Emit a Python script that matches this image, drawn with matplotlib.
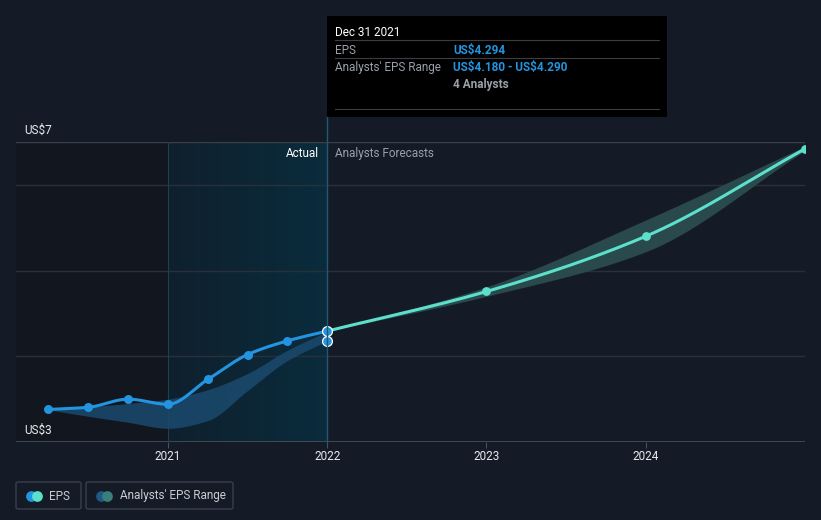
import numpy as np
import matplotlib.pyplot as plt
from matplotlib.patches import Rectangle, FancyBboxPatch
from matplotlib.colors import LinearSegmentedColormap

plt.rcParams['font.family'] = ['Roboto', 'DejaVu Sans']

# --- data ---
hist_x = [2020.25, 2020.5, 2020.75, 2021.0, 2021.25, 2021.5, 2021.75, 2022.0]
hist_eps = [3.38, 3.405, 3.50, 3.44, 3.73, 4.02, 4.18, 4.294]
hist_low = [3.375, 3.30, 3.23, 3.16, 3.25, 3.60, 3.95, 4.18]
hist_high = [3.375, 3.41, 3.45, 3.50, 3.61, 3.80, 4.07, 4.29]

fc_x = [2022.0, 2023.0, 2024.0, 2025.0]
fc_eps = [4.294, 4.756, 5.40, 6.42]
fc_low = [4.294, 4.70, 5.22, 6.40]
fc_high = [4.294, 4.81, 5.59, 6.45]

year_ticks = [2021, 2022, 2023, 2024]
y_labels = [r'US\$7', r'US\$3']

BG = '#151b26'
BLUE = '#2394df'
MINT = '#5ce0cb'
W, H = 821, 520


def smooth(x, y, n=200):
    # monotone cubic (Fritsch-Carlson) just for drawing the curves
    x = np.asarray(x, float)
    y = np.asarray(y, float)
    h = np.diff(x)
    d = np.diff(y) / h
    m = np.zeros_like(y)
    m[0], m[-1] = d[0], d[-1]
    for i in range(1, len(y) - 1):
        if d[i - 1] * d[i] <= 0:
            m[i] = 0
        else:
            w1 = 2 * h[i] + h[i - 1]
            w2 = h[i] + 2 * h[i - 1]
            m[i] = (w1 + w2) / (w1 / d[i - 1] + w2 / d[i])
    xs = np.linspace(x[0], x[-1], n)
    idx = np.clip(np.searchsorted(x, xs) - 1, 0, len(x) - 2)
    t = (xs - x[idx]) / h[idx]
    h00 = 2 * t**3 - 3 * t**2 + 1
    h10 = t**3 - 2 * t**2 + t
    h01 = -2 * t**3 + 3 * t**2
    h11 = t**3 - t**2
    ys = h00 * y[idx] + h10 * h[idx] * m[idx] + h01 * y[idx + 1] + h11 * h[idx] * m[idx + 1]
    return xs, ys


def fx(px):
    return px / W


def fy(py):
    return 1 - py / H


fig = plt.figure(figsize=(W / 100, H / 100), dpi=100, facecolor=BG)

ax = fig.add_axes([fx(16), fy(442), fx(805) - fx(16), fy(142) - fy(442)])
ax.set_facecolor(BG)
ax.set_xlim(2020.046, 2025.0)
ax.set_ylim(3.0, 6.5)

# darker band on the far left of the plot
ax.axvspan(2020.046, 2021.0, color='#12161f', zorder=0, lw=0)
# highlighted last actual year, with a left-to-right gradient
grad = np.linspace(0, 1, 256).reshape(1, -1)
cmap = LinearSegmentedColormap.from_list('hl', ['#0f202d', '#0a2c3d'])
ax.imshow(grad, extent=[2021.0, 2022.0, 3.0, 6.5], aspect='auto', cmap=cmap, zorder=0.5)

for yv in [4, 5, 6]:
    ax.axhline(yv, color='#2a303b', lw=1, zorder=1)
ax.axhline(6.5, color='#3a404b', lw=1, zorder=1)
ax.axhline(3.0, color='#4a505b', lw=1.2, zorder=1)
ax.axvline(2021.0, color='#1d3f52', lw=0.8, zorder=1)

# analyst ranges
sx, sl = smooth(hist_x, hist_low)
_, sh = smooth(hist_x, hist_high)
ax.fill_between(sx, sl, sh, color='#1b4a6e', alpha=0.85, lw=0, zorder=2)
fx_, fl = smooth(fc_x, fc_low)
_, fh = smooth(fc_x, fc_high)
ax.fill_between(fx_, fl, fh, color='#2b4c50', alpha=0.95, lw=0, zorder=2)

# EPS lines
hx, hy = smooth(hist_x, hist_eps, 400)
ax.plot(hx, hy, color=BLUE, lw=2.2, zorder=3, solid_capstyle='round')
ax.scatter(hist_x[:-1], hist_eps[:-1], s=42, color=BLUE, zorder=4, lw=0)
cx, cy = smooth(fc_x, fc_eps, 400)
ax.plot(cx, cy, color=MINT, lw=2.2, zorder=3)
ax.scatter(fc_x[1:], fc_eps[1:], s=40, color=MINT, zorder=4, lw=0, clip_on=True)
ax.scatter([hist_x[-1], hist_x[-1]], [hist_eps[-1], hist_low[-1]], s=50, color=BLUE,
           edgecolor='white', lw=0.9, zorder=5, clip_on=False)

ax.set_xticks(year_ticks)
ax.set_xticklabels([str(y) for y in year_ticks], color='#e8eaed', fontsize=8.5)
ax.tick_params(axis='x', length=4, color='#4a505b', pad=2)
ax.set_yticks([])
for s in ax.spines.values():
    s.set_visible(False)

ax.text(2021.95, 6.36, 'Actual', color='white', fontsize=8.5, ha='right', va='center', zorder=6)
ax.text(2022.05, 6.36, 'Analysts Forecasts', color='#9aa0a8', fontsize=8.5, ha='left', va='center', zorder=6)

fig.text(fx(24), fy(130), y_labels[0], color='#e8eaed', fontsize=8.5, va='center')
fig.text(fx(24), fy(430), y_labels[1], color='#e8eaed', fontsize=8.5, va='center')

# vertical cursor line through the tooltip
fig.add_artist(plt.Line2D([fx(327), fx(327)], [fy(442), fy(116)], color='#1f5a72', lw=1, zorder=1))

# tooltip
fig.add_artist(Rectangle((fx(327), fy(117)), fx(667) - fx(327), fy(16) - fy(117),
                         facecolor='black', edgecolor='none', zorder=7))
for yy in [40, 58, 109]:
    fig.add_artist(plt.Line2D([fx(335), fx(659)], [fy(yy), fy(yy)], color='#3a3d42', lw=0.8, zorder=8))
fig.text(fx(335), fy(32), 'Dec 31 2021', color='white', fontsize=8.5, va='center', zorder=9)
fig.text(fx(335), fy(50.5), 'EPS', color='#9aa0a8', fontsize=8.5, va='center', zorder=9)
fig.text(fx(453), fy(50.5), r'US\$4.294', color=BLUE, fontsize=8.5, va='center', weight='bold', zorder=9)
fig.text(fx(335), fy(68), "Analysts' EPS Range", color='#9aa0a8', fontsize=8.5, va='center', zorder=9)
fig.text(fx(453), fy(68), r'US\$4.180 - US\$4.290', color=BLUE, fontsize=8.5, va='center',
         weight='bold', zorder=9)
fig.text(fx(453), fy(84.5), '4 Analysts', color='#9aa0a8', fontsize=8.5, va='center', weight='bold', zorder=9)

# legend boxes
for (x0, x1) in [(16, 81), (86, 233)]:
    fig.add_artist(FancyBboxPatch((fx(x0), fy(509)), fx(x1) - fx(x0), fy(482) - fy(509),
                                  boxstyle='round,pad=0,rounding_size=0.003',
                                  facecolor='none', edgecolor='#3a404b', lw=1))
lax = fig.add_axes([0, 0, 1, 1], facecolor='none')
lax.set_xlim(0, W)
lax.set_ylim(H, 0)
lax.axis('off')
lax.scatter([31], [495.5], s=60, color=BLUE, lw=0)
lax.scatter([36.5], [495.5], s=60, color=MINT, lw=0)
lax.scatter([101], [495.5], s=60, color='#1d5a85', lw=0)
lax.scatter([106.5], [495.5], s=60, color='#3a7f7a', lw=0)
lax.text(49, 496, 'EPS', color='#c9ccd1', fontsize=8.5, va='center')
lax.text(120, 496, "Analysts' EPS Range", color='#c9ccd1', fontsize=8.5, va='center')

fig.savefig('out.png', dpi=100, facecolor=BG)
